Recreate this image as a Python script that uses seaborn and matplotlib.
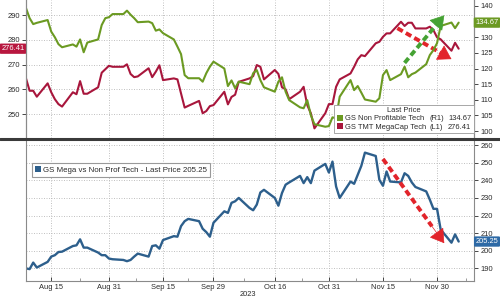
import numpy as np
import pandas as pd
import matplotlib
matplotlib.use("Agg")
import matplotlib.pyplot as plt
import matplotlib.dates as mdates
from matplotlib.lines import Line2D
from matplotlib.patches import Patch
from matplotlib.ticker import FuncFormatter
import seaborn as sns

# ---------------- data ----------------
start_date = "2023-08-08"
megacap = [264.4, 259.4, 259.4, 257.0, 262.4, 258.8, 256.0, 254.0, 253.0, 258.8,
           258.0, 263.3, 258.2, 258.2, 260.8, 266.7, 268.1, 269.5, 269.1, 269.1,
           270.1, 266.2, 264.9, 265.2, 268.5, 264.9, 267.1, 269.7, 263.7, 264.4,
           264.0, 258.3, 252.6, 253.3, 255.3, 250.3, 251.2, 253.2, 253.6, 259.0,
           253.9, 256.9, 257.8, 263.0, 264.4, 265.3,
           269.8, 269.1, 264.0, 267.8, 266.2, 260.8, 260.0, 256.0, 259.0, 261.0,
           253.6, 250.3, 244.2, 250.3, 254.0, 254.0, 261.0, 264.0, 266.4, 269.1,
           272.1, 273.8, 273.4, 278.6, 279.2, 281.2, 282.6, 282.6, 287.3, 285.6,
           286.9, 286.9, 284.6, 284.6, 285.3, 283.9, 281.0, 280.2, 275.6, 278.8,
           276.41]
nonprof = [139.3, 136.1, 134.2, 134.6, 135.5, 131.8, 130.0, 127.8, 126.8, 127.7,
           127.0, 129.3, 125.2, 128.3, 129.3, 133.9, 136.1, 136.4, 137.4, 137.4,
           138.5, 137.2, 136.1, 134.8, 135.0, 134.5, 132.1, 132.5, 131.3, 129.3,
           127.0, 124.6, 117.9, 116.9, 116.9, 115.8, 118.5, 120.6, 122.2, 120.0,
           114.4, 116.2, 113.7, 115.8, 115.0, 118.5,
           119.5, 116.3, 114.0, 112.6, 115.8, 117.2, 112.6, 109.9, 107.6, 107.3,
           109.9, 105.1, 102.2, 101.4, 101.6, 104.4, 104.1, 111.0, 116.3, 113.1,
           114.4, 112.3, 110.1, 109.4, 110.5, 117.9, 119.5, 116.3, 118.2, 120.6,
           117.2, 118.2, 118.7, 121.4, 124.3, 125.9, 128.1, 133.6, 134.7, 132.9,
           134.67]
ratio = [190.0, 189.6, 193.3, 190.5, 193.7, 196.7, 197.5, 199.3, 199.5, 202.7,
         203.1, 206.5, 201.8, 201.8, 199.0, 197.5, 197.5, 195.6, 195.2, 194.8,
         194.1, 194.8, 196.7, 198.4, 196.7, 202.7, 203.1, 201.2, 206.1, 208.3,
         208.0, 214.0, 216.8, 218.1, 216.8, 212.5, 210.6, 208.0, 215.9, 222.4,
         221.5, 227.2, 228.1, 230.0, 224.3,
         223.0, 226.2, 233.1, 234.6, 230.0, 225.6, 232.8, 237.5, 238.8, 242.5,
         238.4, 241.8, 238.4, 245.5, 249.3, 244.4, 250.6, 236.5, 230.0, 239.3,
         238.0, 243.1, 248.2, 255.7, 253.8, 240.3, 236.9, 245.0, 239.3, 238.8,
         244.0, 242.5, 238.8, 236.2, 233.7, 229.0, 223.8, 223.8, 212.1, 204.6,
         209.3, 205.25]

tick_dates = ["2023-08-15", "2023-08-31", "2023-09-15", "2023-09-29",
              "2023-10-16", "2023-10-31", "2023-11-15", "2023-11-30"]
left_ticks = [250, 260, 270, 280, 290]
right_ticks = [100, 105, 110, 115, 120, 125, 130, 135, 140]
bottom_ticks = [190, 200, 210, 220, 230, 240, 250, 260]

name_np = "GS Non Profitable Tech"
name_mc = "GS TMT MegaCap Tech"
name_ratio = "GS Mega vs Non Prof Tech - Last Price 205.25"

# arrow annotations (date, value)
green_arrow = (("2023-11-21", 121.8), ("2023-12-02", 137.0))
red_arrow_top = (("2023-11-19", 284.7), ("2023-12-04", 272.2))
red_arrow_bot = (("2023-11-15", 252.1), ("2023-12-02", 204.3))

dates = pd.bdate_range(start_date, periods=len(megacap))

# ---------------- style ----------------
GREEN = "#6b9a22"
RED = "#a8163c"
BLUE = "#2d5f8c"
GRID = "#b8b8b8"
TXT = "#2a2a2a"
SPINE = "#8a8a8a"
FS = 5.4

sns.set_theme(style="white")
plt.rcParams['font.family'] = ['Liberation Sans', 'DejaVu Sans']

fig = plt.figure(figsize=(5, 3), dpi=100)
ax = fig.add_axes([0.052, 0.54, 0.896, 0.46])
ax2 = ax.twinx()
axb = fig.add_axes([0.052, 0.063, 0.896, 0.467])

sns.lineplot(x=dates, y=megacap, ax=ax, color=RED, lw=1.5)
sns.lineplot(x=dates, y=nonprof, ax=ax2, color=GREEN, lw=1.5)
sns.lineplot(x=dates, y=ratio, ax=axb, color=BLUE, lw=1.7)

xmin = pd.Timestamp("2023-08-08")
xmax = pd.Timestamp("2023-12-10 06:00")
tdates = pd.to_datetime(tick_dates)
minor = [tdates[i] + (tdates[i + 1] - tdates[i]) / 2 for i in range(len(tdates) - 1)]
minor.append(tdates[-1] + pd.Timedelta(days=8))

for a in (ax, ax2, axb):
    a.set_xlim(xmin, xmax)
    a.set_xlabel("")
    a.set_ylabel("")
    a.set_xticks(tdates)
    a.set_xticks(minor, minor=True)

ax.set_ylim(240.3, 296.1)
ax2.set_ylim(97.8, 141.9)
axb.set_ylim(182.8, 262.3)

ax.set_yticks(left_ticks)
ax2.set_yticks(right_ticks)
# the "135" label sits under the last-price tag, as in the reference
ax2.yaxis.set_major_formatter(FuncFormatter(lambda v, p: "" if abs(v - 135) < 0.1 else f"{v:.0f}"))
axb.yaxis.tick_right()
axb.set_yticks(bottom_ticks)

ax.tick_params(axis='x', which='both', labelbottom=False, length=0)
ax2.tick_params(axis='x', which='both', labelbottom=False, length=0)
ax.tick_params(axis='y', labelsize=FS, colors=TXT, length=3, pad=1.5, width=0.6)
ax2.tick_params(axis='y', labelsize=FS, colors=TXT, length=3, pad=1.5, width=0.6)
axb.tick_params(axis='y', labelsize=FS, colors=TXT, length=3, pad=1.5, width=0.6,
                left=False, right=True, labelleft=False, labelright=True)
axb.tick_params(axis='x', which='major', labelsize=FS, colors=TXT, length=3, pad=2,
                width=0.6, bottom=True, direction='in')
axb.tick_params(axis='x', which='minor', length=2.5, width=0.6, colors=SPINE,
                bottom=True, direction='in')
axb.xaxis.set_major_formatter(mdates.DateFormatter("%b %d"))

gkw = dict(color=GRID, lw=0.6, ls=(0, (1.2, 1.8)))
ax.grid(True, axis='both', **gkw)
ax2.grid(False)
axb.grid(True, axis='both', **gkw)

for a in (ax, ax2):
    a.spines['top'].set_visible(False)
    a.spines['bottom'].set_visible(False)
    a.spines['left'].set_color(SPINE)
    a.spines['right'].set_color(SPINE)
    a.spines['left'].set_linewidth(0.8)
    a.spines['right'].set_linewidth(0.8)
axb.spines['top'].set_visible(False)
for s in ('left', 'right', 'bottom'):
    axb.spines[s].set_color(SPINE)
    axb.spines[s].set_linewidth(0.8)

# separator
fig.add_artist(Line2D([0, 1], [1 - 139.3 / 300] * 2, color="#3a3a3a", lw=2.2,
                      transform=fig.transFigure))

# last price tags
tag_fs = 5.4
tag_box = "round,pad=0.22,rounding_size=0.15"
ax.annotate(f"{megacap[-1]:.2f}", xy=(0, megacap[-1]), xycoords=('axes fraction', 'data'),
            xytext=(-13, 0), textcoords='offset pixels', ha='center', va='center',
            color='white', fontsize=tag_fs, annotation_clip=False, zorder=10,
            bbox=dict(boxstyle=tag_box, fc="#b8173f", ec='none'))
ax2.annotate(f"{nonprof[-1]:.2f}", xy=(1, nonprof[-1]), xycoords=('axes fraction', 'data'),
             xytext=(13, 0), textcoords='offset pixels', ha='center', va='center',
             color='white', fontsize=tag_fs, annotation_clip=False, zorder=10,
             bbox=dict(boxstyle=tag_box, fc="#6c9a23", ec='none'))
axb.annotate(f"{ratio[-1]:.2f}", xy=(1, ratio[-1]), xycoords=('axes fraction', 'data'),
             xytext=(13, 0), textcoords='offset pixels', ha='center', va='center',
             color='white', fontsize=tag_fs, annotation_clip=False, zorder=10,
             bbox=dict(boxstyle=tag_box, fc="#2e6aa6", ec='none'))

# legends
blank = Line2D([], [], lw=0)
leg = ax2.legend(handles=[Patch(fc=GREEN, ec='none'), Patch(fc=RED, ec='none'),
                          blank, blank, blank, blank],
                 labels=[name_np, name_mc, "(R1)", "(L1)",
                         f"{nonprof[-1]:.2f}", f"{megacap[-1]:.2f}"],
                 ncol=3, title="Last Price", loc="lower right",
                 bbox_to_anchor=(0.999, 5 / 138), fontsize=FS,
                 title_fontsize=FS, frameon=True, fancybox=False, edgecolor="#999999",
                 borderaxespad=0, handlelength=0.8, handleheight=0.75,
                 handletextpad=0.3, columnspacing=-0.6, labelspacing=0.12,
                 borderpad=0.3, framealpha=1)
leg.get_frame().set_linewidth(0.6)
for t in leg.get_texts():
    t.set_color(TXT)
leg.get_title().set_color(TXT)

legb = axb.legend(handles=[Patch(fc=BLUE, ec='none')], labels=[name_ratio],
                  loc="upper left", bbox_to_anchor=(0.0134, 0.84), fontsize=FS + 0.3,
                  frameon=True, fancybox=False, edgecolor="#999999",
                  handlelength=0.8, handleheight=0.8, handletextpad=0.3,
                  borderpad=0.35, borderaxespad=0, framealpha=1)
legb.get_frame().set_linewidth(0.8)
for t in legb.get_texts():
    t.set_color(TXT)


def dashed_arrow(a, p0, p1, color):
    x0 = mdates.date2num(pd.Timestamp(p0[0]))
    x1 = mdates.date2num(pd.Timestamp(p1[0]))
    y0, y1 = p0[1], p1[1]
    f = 0.80
    xm, ym = x0 + (x1 - x0) * f, y0 + (y1 - y0) * f
    a.plot([x0, xm], [y0, ym], color=color, lw=2.8, ls=(0, (1.6, 0.9)),
           solid_capstyle='butt', dash_capstyle='butt', zorder=5)
    a.annotate("", xy=(x1, y1), xytext=(xm, ym),
               arrowprops=dict(arrowstyle="-|>,head_length=0.8,head_width=0.5",
                               color=color, lw=0.5, shrinkA=0, shrinkB=0,
                               mutation_scale=11), zorder=6)


dashed_arrow(ax2, green_arrow[0], green_arrow[1], "#45a233")
dashed_arrow(ax, red_arrow_top[0], red_arrow_top[1], "#e2242b")
dashed_arrow(axb, red_arrow_bot[0], red_arrow_bot[1], "#e2242b")

fig.text(0.496, 0.02, "2023", ha='center', va='center', fontsize=FS, color=TXT)

fig.savefig("out.png", dpi=100)
